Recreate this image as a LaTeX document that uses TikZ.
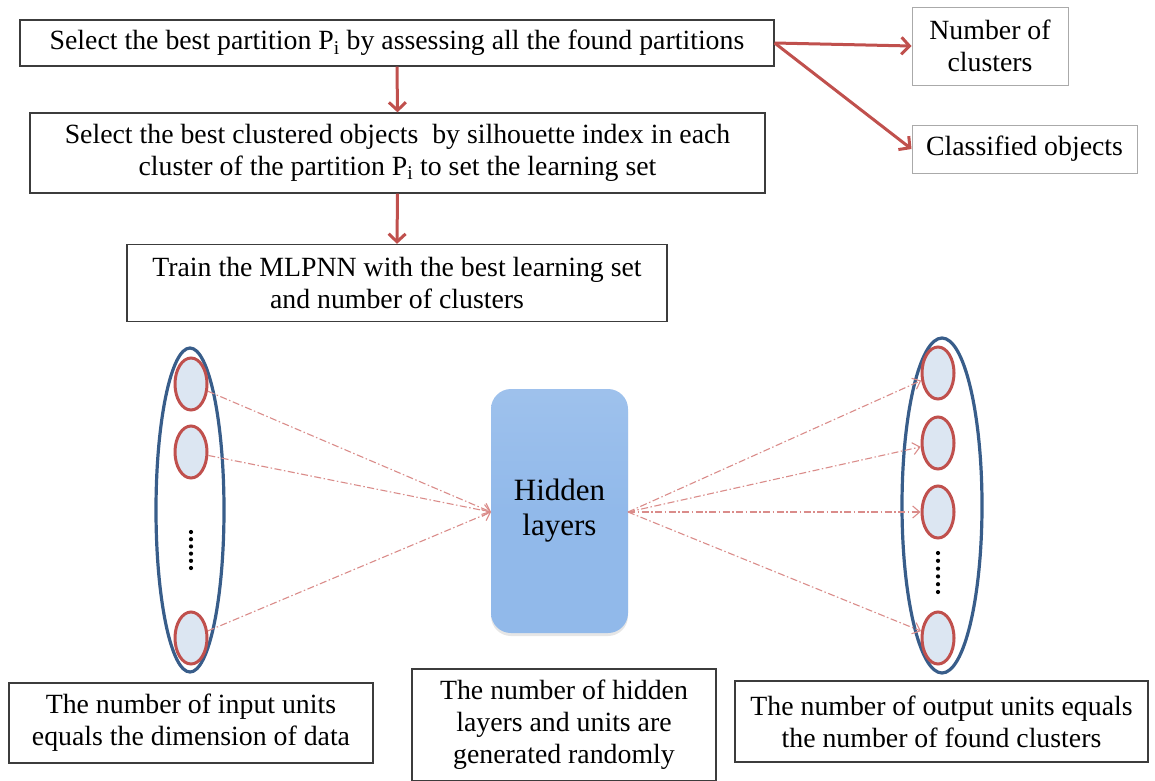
\documentclass[tikz,border=0pt]{standalone}
\usepackage{fontspec}
\setmainfont{Liberation Serif}
\usetikzlibrary{arrows.meta,shapes.geometric,shadows}
\definecolor{flowred}{RGB}{192,80,77}
\definecolor{linkred}{RGB}{218,140,138}
\definecolor{ringblue}{RGB}{56,93,138}
\definecolor{unitfill}{RGB}{220,230,242}
\definecolor{hiddenfill}{RGB}{145,185,234}
\definecolor{boxline}{RGB}{60,60,60}
\definecolor{sideline}{RGB}{170,170,170}
\tikzset{
  txt/.style={font=\fontsize{27.8}{32}\selectfont},
  stepbox/.style={draw=boxline, line width=1.3pt, fill=white, align=center, txt, inner sep=0pt},
  sidebox/.style={draw=sideline, line width=1pt, fill=white, align=center, txt, inner sep=0pt},
  flow/.style={draw=flowred, line width=3pt, -{Straight Barb[length=8pt,width=17pt,line width=3pt]}},
  link/.style={draw=linkred, line width=1.1pt, dash pattern=on 7pt off 2.5pt on 1.5pt off 2.5pt,
    -{Straight Barb[length=7pt,width=12pt,line width=1.1pt]}},
  ring/.style={draw=ringblue, line width=3.2pt, ellipse, inner sep=0pt},
  unit/.style={draw=flowred, line width=3pt, fill=unitfill, ellipse, minimum width=32pt, minimum height=52pt, inner sep=0pt},
  dotmark/.style={fill=black, circle, inner sep=0pt, minimum size=4.2pt},
}
\begin{document}
\begin{tikzpicture}[x=1pt,y=-1pt]
\useasboundingbox (0,0) rectangle (1155,780);

% clustering steps
\node[stepbox, minimum width=754pt, minimum height=46pt] (b1) at (397,43)
  {Select the best partition P\textsubscript{i} by assessing all the found partitions};
\node[stepbox, minimum width=735pt, minimum height=80pt] (b2) at (397.5,153)
  {Select the best clustered objects\ \ by silhouette index in each\\cluster of the partition P\textsubscript{i} to set the learning set};
\node[stepbox, minimum width=540pt, minimum height=77pt] (b3) at (397,283)
  {Train the MLPNN with the best learning set\\and number of clusters};

% clustering results
\node[sidebox, minimum width=156pt, minimum height=78pt] (nc) at (990,46) {Number of\\clusters};
\node[sidebox, minimum width=225pt, minimum height=48pt] (co) at (1024.5,149) {Classified objects};

\draw[flow] (b1.south) -- (b2.north);
\draw[flow] (b2.south) -- (b3.north);
\draw[flow] (b1.east) -- (nc.west);
\draw[flow] (b1.east) -- (co.west);

% hidden layers block
\node[draw=none, top color=hiddenfill!88!white, bottom color=hiddenfill, middle color=hiddenfill,
  rounded corners=20pt, minimum width=137pt, minimum height=244pt,
  align=center, font=\fontsize{31}{35}\selectfont,
  drop shadow={shadow xshift=0pt, shadow yshift=-3pt, opacity=0.2}] (hid) at (559.5,511) {Hidden\\layers};

% input layer
\node[ring, minimum width=68pt, minimum height=324pt] (inring) at (190,510) {};
\node[unit] (i1) at (191,384) {};
\node[unit] (i2) at (191,452) {};
\node[unit] (i3) at (191,638) {};
\foreach \k in {0,...,5} \node[dotmark] (id\k) at (191,532+7.2*\k) {};

% output layer
\node[ring, minimum width=80pt, minimum height=335pt] (outring) at (942,505.5) {};
\node[unit] (o1) at (938,373) {};
\node[unit] (o2) at (938,443) {};
\node[unit] (o3) at (938,512) {};
\node[unit] (o4) at (938,638) {};
\foreach \k in {0,...,5} \node[dotmark] (od\k) at (938,553+7.8*\k) {};

% connections
\coordinate (hin) at (491,512);
\coordinate (hout) at (628,512);
\foreach \u in {i1,i2,i3} \draw[link] (\u) -- (hin);
\foreach \u in {o1,o2,o3,o4} \draw[link] (hout) -- (\u);

% descriptions
\node[stepbox, minimum width=364pt, minimum height=80pt] (dl) at (191,723)
  {The number of input units\\equals the dimension of data};
\node[stepbox, minimum width=304pt, minimum height=112pt] (dm) at (564,725)
  {The number of hidden\\layers and units are\\generated randomly};
\node[stepbox, minimum width=413pt, minimum height=81pt] (dr) at (941.5,721.5)
  {The number of output units equals\\the number of found clusters};
\end{tikzpicture}
\end{document}
